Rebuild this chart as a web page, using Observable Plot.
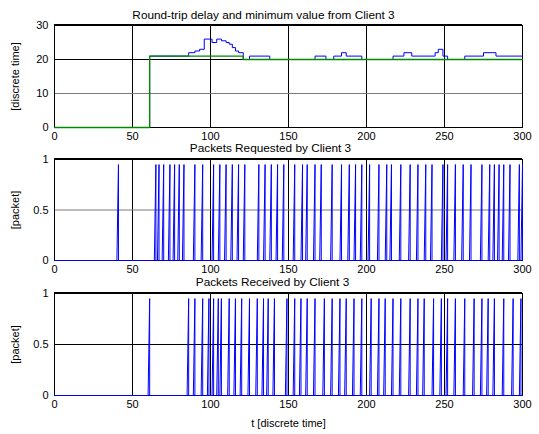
<!DOCTYPE html>
<html><head><meta charset="utf-8">
<script src="https://cdn.jsdelivr.net/npm/d3@7"></script>
<script src="https://cdn.jsdelivr.net/npm/@observablehq/plot@0.6"></script>
<style>body{margin:0;background:#fff} #chart svg{display:block}</style>
</head><body><div id="chart"></div>
<script>
// ---- data ----
const xTicks = [0, 50, 100, 150, 200, 250, 300];
const delayTicks = [0, 10, 20, 30];
const packetTicks = [0, 0.5, 1];

// round-trip delay (blue), step changes: time and new value
const delayT = [0, 61, 86, 90, 93, 96, 101, 104, 107, 110, 112, 114, 116, 118, 121, 125, 138, 167, 174, 179, 184, 187, 197, 217, 224, 229, 244, 246, 249, 252, 263, 275, 283, 300];
const delayV = [0, 21, 22, 22.5, 23, 26, 25, 26, 25.5, 25, 24.5, 23.5, 22.5, 22, 20, 21, 20, 21, 20, 21, 22, 21, 20, 21, 22, 21, 22, 23, 21, 20, 21, 22, 21, 21];

// minimum value (green)
const minT = [0, 61, 121, 300];
const minV = [0, 21, 20, 20];

// times of packets requested / received
const requestedTimes = [41, 65, 67, 70, 74, 77, 80, 83, 90, 95, 102, 106, 110, 114, 118, 122, 131, 135, 139, 143, 147, 154, 159, 162, 167, 171, 178, 184, 189, 193, 197, 202, 208, 213, 216, 222, 228, 233, 238, 242, 249, 252, 257, 262, 267, 274, 279, 282, 285, 288, 292, 298, 300];
const receivedTimes = [61, 86, 90, 95, 99, 102, 105, 107, 112, 116, 120, 125, 130, 134, 137, 141, 149, 154, 158, 162, 167, 173, 178, 183, 187, 192, 197, 203, 208, 212, 217, 222, 228, 233, 237, 243, 248, 252, 257, 263, 269, 274, 278, 282, 288, 294, 299];
const pulseHeight = 0.95;

const titles = ["Round-trip delay and minimum value from Client 3", "Packets Requested by Client 3", "Packets Received by Client 3"];

// ---- build tables ----
const delay = delayT.map((t, i) => ({t, v: delayV[i]}));
const minimum = minT.map((t, i) => ({t, v: minV[i]}));
function pulses(times) {
  const pts = [{t: 0, v: 0}];
  for (const t of times) {
    pts.push({t: t - 1, v: 0}, {t, v: pulseHeight}, {t, v: 0});
  }
  pts.push({t: 300, v: 0});
  return pts;
}

const font = "'Liberation Sans', Arial, Helvetica, sans-serif";

function panel({height, marginTop, marginBottom, yDomain, yTicks, yLabel, title, titleDy, titleDx, marks, xLabel, midGrid}) {
  return Plot.plot({
    width: 539, height, marginLeft: 54, marginRight: 17, marginTop, marginBottom,
    style: {fontFamily: font, fontSize: "11px", background: "white", color: "black", overflow: "visible"},
    x: {domain: [0, 300]},
    y: {domain: yDomain},
    marks: [
      Plot.gridX(xTicks, {stroke: "black", strokeOpacity: 1}),
      Plot.gridY(yTicks, {stroke: d => d === midGrid ? "#7a7a7a" : "black", strokeOpacity: 1}),
      Plot.frame({stroke: "black"}),
      Plot.ruleY([yDomain[1]], {stroke: "black", strokeWidth: 2, dy: -0.5}),
      ...marks,
      Plot.axisX(xTicks, {tickSize: 0, tickPadding: 5, label: xLabel ?? null, labelAnchor: "center", labelArrow: "none", labelOffset: 31, fontSize: 11}),
      Plot.axisY(yTicks, {tickSize: 0, tickPadding: 6, tickFormat: d => String(d), label: yLabel, labelAnchor: "center", labelArrow: "none", labelOffset: 43, fontSize: 11}),
      Plot.text([title], {frameAnchor: "top", dy: titleDy, dx: titleDx, fontSize: 11.8})
    ]
  });
}

const root = document.getElementById("chart");
root.append(panel({
  height: 145, marginTop: 25, marginBottom: 18, yDomain: [0, 30], yTicks: delayTicks, midGrid: 10,
  yLabel: "[discrete time]", title: titles[0], titleDy: -15, titleDx: -25,
  marks: [
    Plot.line(delay, {x: "t", y: "v", curve: "step-after", stroke: "#0000ff", strokeWidth: 1}),
    Plot.line(minimum, {x: "t", y: "v", curve: "step-after", stroke: "#008a00", strokeWidth: 1.3})
  ]
}));
root.append(panel({
  height: 133, marginTop: 14, marginBottom: 18, yDomain: [0, 1], yTicks: packetTicks, midGrid: 0.5,
  yLabel: "[packet]", title: titles[1], titleDy: -16, titleDx: -18,
  marks: [Plot.line(pulses(requestedTimes), {x: "t", y: "v", stroke: "#0000ff", strokeWidth: 1})]
}));
root.append(panel({
  height: 156, marginTop: 15, marginBottom: 39, yDomain: [0, 1], yTicks: packetTicks, midGrid: null,
  yLabel: "[packet]", title: titles[2], titleDy: -16, titleDx: -16, xLabel: "t [discrete time]",
  marks: [Plot.line(pulses(receivedTimes), {x: "t", y: "v", stroke: "#0000ff", strokeWidth: 1})]
}));
</script></body></html>
